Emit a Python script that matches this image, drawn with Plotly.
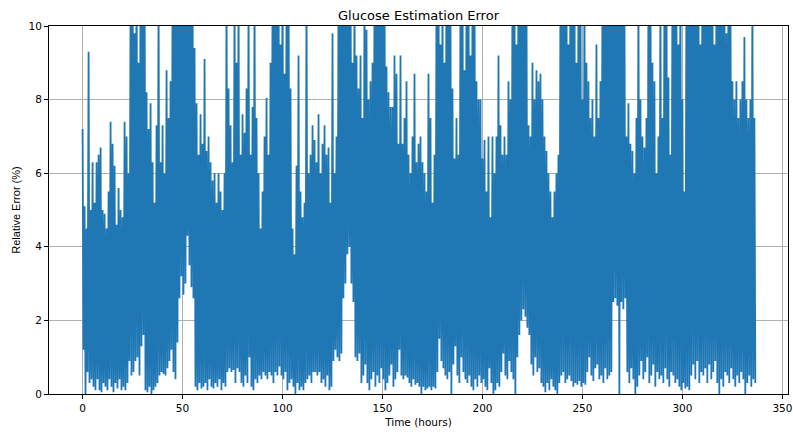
import plotly.graph_objects as go

# Hourly peak (upper) relative error readings, t = 0..336 h
peak_error = [
    7.2, 5.1, 4.5, 9.3, 5.0, 6.3, 5.2, 6.3, 6.5, 6.7,
    5.0, 4.9, 4.5, 5.5, 7.4, 6.8, 6.2, 4.6, 5.6, 5.0,
    4.8, 7.4, 7.0, 6.0, 11, 12, 9.8, 12, 9.0, 12,
    11, 12, 8.2, 7.2, 7.9, 6.3, 5.2, 7.3, 11, 6.3,
    7.3, 6.0, 8.8, 7.5, 8.5, 11, 12, 13, 12, 13,
    12, 13, 12, 11, 12, 11, 9.4, 7.9, 6.5, 7.6,
    6.8, 9.1, 6.6, 7.0, 6.3, 5.8, 6.0, 5.2, 6.0, 5.5,
    5.0, 6.0, 11, 8.3, 7.3, 6.3, 11, 9.0, 11, 6.5,
    7.6, 7.1, 8.3, 11, 6.5, 7.8, 11, 7.5, 6.0, 4.5,
    5.5, 7.0, 8.05, 6.5, 9.0, 11, 12, 11, 12, 9.5,
    12, 8.7, 11, 12, 8.3, 4.5, 3.8, 6.2, 9.2, 5.5,
    4.8, 5.2, 11, 6.0, 6.5, 7.3, 6.9, 6.3, 7.6, 6.0,
    6.8, 7.3, 6.5, 6.7, 5.2, 9.8, 6.0, 7.0, 11, 12,
    11, 12, 13, 11, 12, 9.0, 11, 9.2, 8.3, 9.2,
    7.5, 11, 9.9, 8.0, 8.5, 9.0, 11, 12, 11, 12,
    11, 12, 8.9, 8.2, 7.8, 7.8, 9.2, 8.7, 6.8, 9.2,
    6.8, 7.5, 8.5, 6.5, 6.0, 7.0, 8.7, 6.3, 6.8, 7.0,
    6.3, 6.0, 5.5, 8.7, 7.5, 5.2, 6.5, 11, 12, 9.5,
    11, 9.0, 12, 11, 10.5, 8.3, 6.4, 7.5, 6.5, 11,
    12, 8.8, 11, 12, 9.2, 11, 12, 8.5, 8.0, 8.0,
    6.4, 6.9, 5.5, 7.0, 4.8, 7.0, 6.0, 7.0, 9.2, 7.3,
    6.5, 7.0, 6.5, 8.5, 8.0, 11, 12, 9.5, 12, 11,
    12, 10.5, 11, 7.3, 7.0, 9.0, 8.0, 8.8, 8.5, 8.7,
    8.0, 7.0, 6.6, 6.0, 5.5, 4.8, 5.5, 6.0, 6.5, 11,
    12, 11, 12, 9.5, 12, 11, 12, 9.0, 11, 12,
    8.0, 11, 9.0, 8.5, 7.5, 8.0, 7.0, 9.5, 7.5, 8.5,
    11, 11, 12, 13, 12, 11, 12, 11, 12, 11,
    12, 10.5, 7.0, 7.9, 6.8, 6.6, 6.0, 7.5, 11, 8.0,
    7.0, 6.7, 7.5, 11, 12, 9.0, 8.5, 6.0, 7.0, 11,
    7.5, 11, 12, 8.6, 6.5, 11, 12, 11, 9.5, 12,
    8.0, 5.5, 11, 12, 11, 13, 12, 11, 12, 9.5,
    12, 11, 13, 12, 11, 12, 9.5, 11, 12, 11,
    12, 11, 9.8, 11, 12, 8.5, 8.0, 8.5, 7.5, 8.0,
    8.5, 9.7, 8.0, 7.5, 8.0, 11, 7.5,
]

# Hourly trough (lower) relative error readings, t = 0..336 h
trough_error = [
    1.2, 0.0, 0.6, 0.3, 0.4, 0.2, 0.1, 0.4, 0.1, 0.05,
    0.3, 0.2, 0.1, 0.4, 0.2, 0.05, 0.3, 0.15, 0.4, 0.1,
    0.2, 0.1, 0.3, 0.9, 0.5, 0.6, 0.9, 1.0, 0.5, 1.3,
    1.6, 0.1, 0.05, 0.2, 0.0, 0.1, 0.2, 0.3, 0.5, 0.6,
    0.55, 0.5, 0.7, 0.9, 1.2, 0.6, 0.4, 1.4, 2.6, 3.2,
    2.7, 3.0, 4.3, 3.5, 2.9, 2.6, 0.2, 0.1, 0.3, 0.15,
    0.2, 0.3, 0.1, 0.4, 0.2, 0.15, 0.3, 0.2, 0.4, 0.1,
    0.3, 0.2, 0.6, 0.7, 0.6, 0.65, 0.3, 0.7, 0.6, 0.3,
    0.2, 0.5, 0.3, 1.0, 0.2, 0.1, 0.4, 0.3, 0.5, 0.4,
    0.6, 0.5, 0.4, 0.6, 0.5, 0.3, 0.6, 0.5, 0.75, 0.5,
    0.4, 0.6, 0.1, 0.3, 0.4, 0.2, 0.0, 0.3, 0.1, 0.2,
    0.1, 0.3, 0.4, 0.5, 0.3, 0.6, 0.6, 0.5, 0.6, 0.3,
    0.4, 0.2, 0.5, 0.1, 0.2, 0.9, 1.2, 1.0, 0.9, 1.1,
    2.6, 3.0, 3.8, 4.0, 3.0, 2.5, 1.0, 0.9, 1.1, 0.3,
    0.5, 0.8, 0.3, 0.1, 0.4, 0.6, 0.2, 0.5, 0.3, 0.7,
    0.4, 0.1, 0.3, 0.5, 0.8, 0.2, 0.4, 0.6, 1.2, 0.5,
    0.4, 0.5, 0.45, 0.3, 0.2, 0.4, 0.25, 0.3, 0.2, 0.0,
    0.2, 0.1, 0.15, 0.2, 0.1, 0.2, 0.15, 0.6, 1.5, 0.9,
    0.7, 0.5, 0.4, 0.6, 0.0, 0.8, 1.3, 0.5, 0.3, 1.0,
    0.6, 0.4, 0.3, 0.5, 0.2, 0.1, 0.4, 0.2, 0.5, 0.3,
    0.4, 0.2, 0.1, 0.7, 0.3, 0.0, 0.1, 0.3, 0.2, 0.6,
    1.1, 0.5, 0.4, 0.9, 0.6, 0.4, 0.0, 1.0, 1.6, 2.0,
    2.3, 2.1, 1.8, 1.6, 0.8, 0.5, 1.0, 0.6, 0.7, 0.3,
    0.2, 0.05, 0.3, 0.1, 0.4, 0.2, 0.1, 0.0, 0.3, 0.5,
    0.6, 0.3, 0.4, 0.5, 0.35, 0.2, 0.3, 0.25, 0.35, 0.2,
    0.3, 0.25, 0.6, 1.0, 0.5, 0.35, 0.7, 0.8, 0.4, 0.5,
    0.3, 0.7, 0.4, 0.5, 0.6, 2.5, 2.6, 2.4, 0.0, 2.5,
    2.3, 2.6, 0.6, 0.3, 0.7, 0.4, 0.0, 0.2, 0.5, 0.9,
    0.4, 0.6, 1.0, 0.3, 0.5, 0.8, 0.2, 0.6, 0.4, 0.5,
    0.3, 0.7, 0.4, 0.2, 0.6, 0.5, 0.3, 0.4, 0.2, 0.1,
    0.3, 0.15, 0.2, 0.1, 0.5, 0.8, 0.4, 0.9, 0.3, 0.6,
    0.5, 0.7, 0.3, 0.8, 0.4, 0.6, 0.9, 0.3, 0.0, 0.4,
    0.2, 0.6, 0.5, 0.3, 0.7, 0.4, 0.2, 0.5, 0.3, 0.6,
    0.4, 0.0, 0.3, 0.5, 0.2, 0.4, 0.3,
]

hours = list(range(len(peak_error)))

# Build the zig-zag series: peak reading then trough reading each hour
time_h = []
rel_err = []
for h, hi, lo in zip(hours, peak_error, trough_error):
    time_h.append(h)
    rel_err.append(hi)
    time_h.append(h + 0.45)
    rel_err.append(lo)

x_ticks = [0, 50, 100, 150, 200, 250, 300, 350]
y_ticks = [0, 2, 4, 6, 8, 10]

font = "DejaVu Sans, sans-serif"

fig = go.Figure()
fig.add_trace(go.Scatter(
    x=time_h, y=rel_err, mode="lines",
    line=dict(color="#1f77b4", width=1.8),
    showlegend=False, hoverinfo="skip",
))

axis_common = dict(
    showline=True, linecolor="black", linewidth=1, mirror=True,
    ticks="outside", ticklen=4, tickcolor="black", tickwidth=1,
    showgrid=True, gridcolor="#b0b0b0", gridwidth=1,
    zeroline=False, automargin=False,
    tickfont=dict(family=font, size=10.5, color="black"),
)

fig.update_layout(
    width=793, height=432,
    margin=dict(l=49, r=5, t=26, b=38),
    paper_bgcolor="white", plot_bgcolor="white",
    title=dict(text="Glucose Estimation Error", x=0.5, xref="paper",
               y=0.965, yref="container", xanchor="center", yanchor="middle",
               font=dict(family=font, size=13, color="black")),
    xaxis=dict(range=[-16.8, 352.8], tickvals=x_ticks,
               title=dict(text="Time (hours)", standoff=6,
                          font=dict(family=font, size=10.5, color="black")),
               **axis_common),
    yaxis=dict(range=[0, 10], tickvals=y_ticks,
               title=dict(text="Relative Error (%)", standoff=5,
                          font=dict(family="Liberation Sans, Arial, sans-serif", size=11, color="black")),
               **axis_common),
)

fig.write_html(
    "out.html",
    config={"displayModeBar": False},
    post_script="document.body.style.margin='0';document.body.style.overflow='hidden';",
)
